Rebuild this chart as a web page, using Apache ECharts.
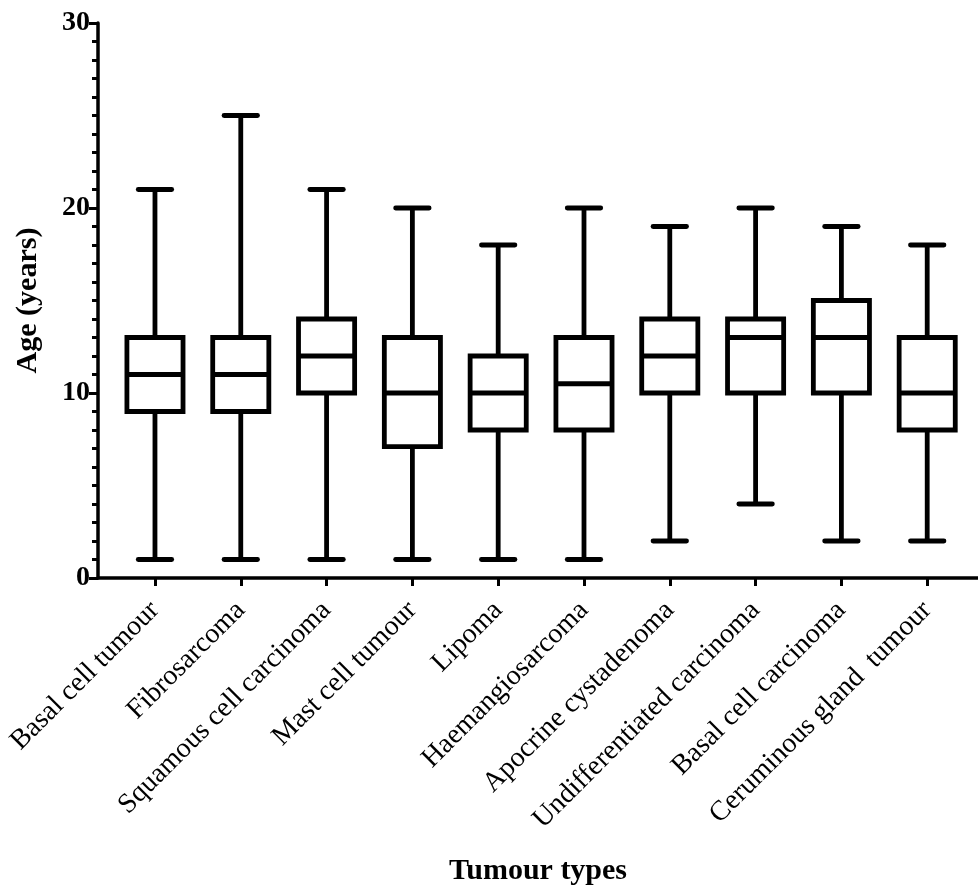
<!DOCTYPE html>
<html>
<head>
<meta charset="utf-8">
<script src="https://cdn.jsdelivr.net/npm/echarts@6/dist/echarts.min.js"></script>
<style>html,body{margin:0;padding:0;background:#fff;}#chart{width:978px;height:890px;}</style>
</head>
<body>
<div id="chart"></div>
<script>
const categories = ['Basal cell tumour','Fibrosarcoma','Squamous cell carcinoma','Mast cell tumour','Lipoma','Haemangiosarcoma','Apocrine cystadenoma','Undifferentiated carcinoma','Basal cell carcinoma','Ceruminous gland  tumour'];
const minVals    = [1, 1, 1, 1, 1, 1, 2, 4, 2, 2];
const q1Vals     = [9, 9, 10, 7.1, 8, 8, 10, 10, 10, 8];
const medianVals = [11, 11, 12, 10, 10, 10.5, 12, 13, 13, 10];
const q3Vals     = [13, 13, 14, 13, 12, 13, 14, 14, 15, 13];
const maxVals    = [21, 25, 21, 20, 18, 20, 19, 20, 19, 18];
const yTicks = [0, 10, 20, 30];

const data = categories.map((c, i) => [i, minVals[i], q1Vals[i], medianVals[i], q3Vals[i], maxVals[i]]);
const catIdx = categories.map((c, i) => i);
const FONT = '"Liberation Serif", "Times New Roman", serif';

const chart = echarts.init(document.getElementById('chart'), null, {renderer: 'canvas'});
chart.setOption({
  backgroundColor: '#fff',
  animation: false,
  grid: {left: 98, right: 0, top: 23, bottom: 312, containLabel: false, outerBoundsMode: 'none'},
  xAxis: {
    type: 'value',
    min: -0.664,
    max: 9.592,
    name: 'Tumour types',
    nameLocation: 'middle',
    nameGap: 278,
    nameTextStyle: {fontFamily: FONT, fontWeight: 'bold', fontSize: 30, color: '#000'},
    splitLine: {show: false},
    axisLine: {show: true, onZero: false, lineStyle: {color: '#000', width: 3.5}},
    axisTick: {show: true, customValues: catIdx, length: 8, lineStyle: {color: '#000', width: 3}},
    axisLabel: {
      customValues: catIdx,
      rotate: 45,
      margin: 28,
      fontFamily: FONT,
      fontSize: 28,
      color: '#000',
      formatter: v => categories[Math.round(v)]
    }
  },
  yAxis: {
    type: 'value',
    min: 0,
    max: 30,
    interval: 10,
    name: 'Age (years)',
    nameLocation: 'middle',
    nameGap: 55,
    nameTextStyle: {fontFamily: FONT, fontWeight: 'bold', fontSize: 30, color: '#000'},
    splitLine: {show: false},
    axisLine: {show: true, onZero: false, lineStyle: {color: '#000', width: 3.5}},
    axisTick: {show: true, length: 9, lineStyle: {color: '#000', width: 3}},
    minorTick: {show: true, splitNumber: 10, length: 6, lineStyle: {color: '#000', width: 3}},
    axisLabel: {
      margin: 8,
      fontFamily: FONT,
      fontWeight: 'bold',
      fontSize: 28,
      color: '#000',
      customValues: yTicks
    }
  },
  series: [{
    type: 'custom',
    data: data,
    encode: {x: 0, y: [1, 2, 3, 4, 5]},
    renderItem: function (params, api) {
      const x = api.value(0);
      const mn = api.coord([x, api.value(1)]);
      const q1 = api.coord([x, api.value(2)]);
      const md = api.coord([x, api.value(3)]);
      const q3 = api.coord([x, api.value(4)]);
      const mx = api.coord([x, api.value(5)]);
      const band = api.size([1, 0])[0];
      const hw = band * 0.327;
      const cw = band * 0.195;
      const st = {stroke: '#000', lineWidth: 4.8, fill: null, lineCap: 'butt'};
      const cap = {stroke: '#000', lineWidth: 4.8, fill: null, lineCap: 'round'};
      const cx = mn[0];
      return {
        type: 'group',
        children: [
          {type: 'line', shape: {x1: cx, y1: mx[1], x2: cx, y2: q3[1]}, style: st},
          {type: 'line', shape: {x1: cx, y1: q1[1], x2: cx, y2: mn[1]}, style: st},
          {type: 'line', shape: {x1: cx - cw, y1: mx[1], x2: cx + cw, y2: mx[1]}, style: cap},
          {type: 'line', shape: {x1: cx - cw, y1: mn[1], x2: cx + cw, y2: mn[1]}, style: cap},
          {type: 'rect', shape: {x: cx - hw, y: q3[1], width: 2 * hw, height: q1[1] - q3[1]}, style: {stroke: '#000', lineWidth: 4.8, fill: '#fff'}},
          {type: 'line', shape: {x1: cx - hw, y1: md[1], x2: cx + hw, y2: md[1]}, style: st}
        ]
      };
    }
  }]
});
</script>
</body>
</html>
